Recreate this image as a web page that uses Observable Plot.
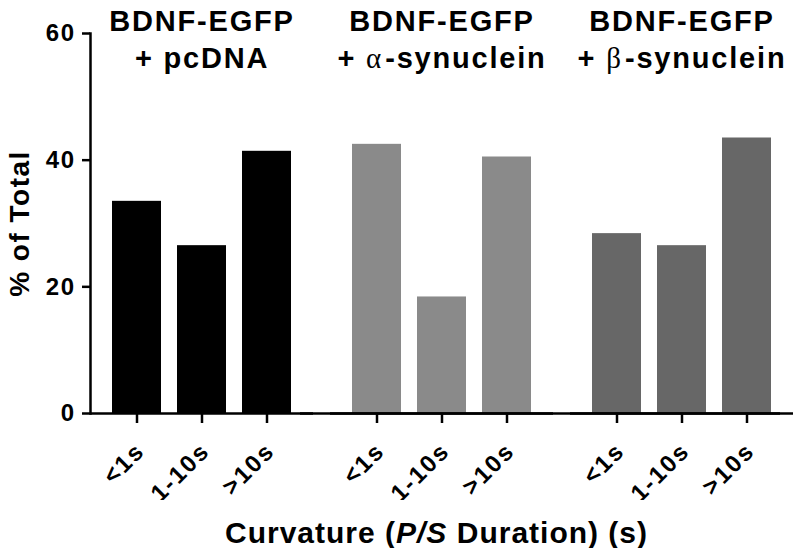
<!DOCTYPE html>
<html><head><meta charset="utf-8">
<script src="https://cdn.jsdelivr.net/npm/d3@7"></script>
<script src="https://cdn.jsdelivr.net/npm/@observablehq/plot@0.6"></script>
<style>
body{margin:0;background:#fff;}
#chart svg{display:block;}
#caption{font:bold 30px 'Liberation Sans',Arial,sans-serif;letter-spacing:1px;text-align:center;width:727px;padding-left:73px;margin-top:18px;line-height:30px;color:#000;white-space:nowrap;}
</style></head><body><div id="chart"></div><div id="caption"></div>
<script>
const groups = ["pcDNA", "alpha", "beta"];
const groupTitles = ["BDNF-EGFP\n+ pcDNA", "BDNF-EGFP\n+ α-synuclein", "BDNF-EGFP\n+ β-synuclein"];
const categories = ["<1s", "1-10s", ">10s"];
const pcDNA = [33.5, 26.5, 41.4];
const alphaSyn = [42.5, 18.4, 40.5];
const betaSyn = [28.4, 26.5, 43.5];
const groupColors = ["#000000", "#8a8a8a", "#676767"];
const yTicks = [0, 20, 40, 60];
const yLabel = "% of Total";
const xLabelParts = ["Curvature (", "P/S", " Duration) (s)"];

const series = [pcDNA, alphaSyn, betaSyn];
const rows = groups.flatMap((g, gi) => categories.map((c, ci) => ({group: g, cat: c, value: series[gi][ci]})));

const chart = Plot.plot({
  width: 800, height: 500,
  marginTop: 33, marginBottom: 87, marginLeft: 102, marginRight: 18,
  style: {fontFamily: "'Liberation Sans', Arial, sans-serif", fontWeight: "bold", color: "#000", background: "#fff"},
  fx: {domain: groups, paddingInner: 43 / 241, paddingOuter: 0, axis: null},
  x: {domain: categories, paddingInner: 0.24, paddingOuter: 0.12, axis: null},
  y: {domain: [0, 60], axis: null},
  color: {domain: groups, range: groupColors},
  marks: [
    Plot.barY(rows, {fx: "group", x: "cat", y: "value", fill: "group"}),
    Plot.ruleY([0], {insetLeft: -13, insetRight: -13, strokeWidth: 2.5}),
    Plot.ruleY(groups.slice(1), {fx: d => d, y: () => 0, insetLeft: -43, strokeWidth: 2.5}),
    Plot.frame({anchor: "left", facetAnchor: "left", dx: -13, strokeWidth: 2.5}),
    Plot.axisY({ticks: yTicks, tickSize: 8, tickPadding: 7, dx: -13, fontSize: 24, strokeWidth: 2.5, label: null}),
    Plot.axisX({tickSize: 10, tickFormat: () => "", strokeWidth: 2.5, label: null}),
    Plot.text(rows, {fx: "group", x: "cat", text: "cat", frameAnchor: "bottom", rotate: -45, textAnchor: "end", lineAnchor: "bottom", dx: 9, dy: 39, fontSize: 24}),
    Plot.text(groups, {fx: d => d, text: (d, i) => groupTitles[i], frameAnchor: "top", lineAnchor: "top", dy: -29, fontSize: 29, lineHeight: 1.28}),
    Plot.text([yLabel], {fx: () => groups[0], text: d => d, frameAnchor: "left", textAnchor: "middle", rotate: -90, dx: -83, fontSize: 28})
  ]
});
document.getElementById("chart").appendChild(chart);

// font size / letter spacing to match the wide lettering of the reference
const yTickStr = yTicks.map(String);
chart.querySelectorAll("text").forEach(t => {
  const s = t.textContent;
  if (categories.includes(s)) { t.style.fontSize = "24px"; t.style.letterSpacing = "2px"; }
  else if (yTickStr.includes(s)) { t.style.fontSize = "24px"; t.style.letterSpacing = "1.5px"; }
  else if (s === yLabel) { t.style.letterSpacing = "1.5px"; }
  else if (s.startsWith("BDNF")) { t.style.letterSpacing = "1.8px"; }
});

// Greek letters in a lighter serif face, as in the reference
const leaves = [...chart.querySelectorAll("tspan"), ...chart.querySelectorAll("text")].filter(t => t.children.length === 0);
leaves.forEach(t => {
  const s = t.textContent;
  const m = s.match(/[αβ]/);
  if (!m) return;
  const k = s.indexOf(m[0]);
  t.textContent = "";
  t.appendChild(document.createTextNode(s.slice(0, k)));
  const g = document.createElementNS("http://www.w3.org/2000/svg", "tspan");
  g.style.fontFamily = "'Liberation Serif', 'DejaVu Serif', serif";
  g.style.fontWeight = "normal";
  g.style.letterSpacing = "4px";
  g.textContent = m[0];
  t.appendChild(g);
  t.appendChild(document.createTextNode(s.slice(k + 1)));
});

const cap = document.getElementById("caption");
cap.appendChild(document.createTextNode(xLabelParts[0]));
const it = document.createElement("i");
it.textContent = xLabelParts[1];
cap.appendChild(it);
cap.appendChild(document.createTextNode(xLabelParts[2]));
</script>
</body></html>
